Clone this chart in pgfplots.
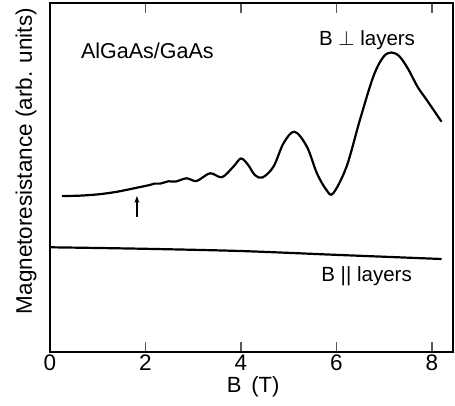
\documentclass[border=0pt]{standalone}
\usepackage{fontspec}
\setmainfont{Liberation Sans}
\usepackage{pgfplots}
\pgfplotsset{compat=1.18}
\usetikzlibrary{arrows.meta}

% Magnetoresistance traces (vertical scale in arbitrary units)
\pgfplotstableread{
x y
0.25 156
0.60 156.3
1.00 157.6
1.40 160.2
1.82 164.3
2.09 167
2.19 168.4
2.31 168.4
2.48 170.7
2.63 170.4
2.86 173.7
3.07 171.0
3.35 178.7
3.60 174.8
3.84 185.3
4.00 193.5
4.15 187
4.29 177
4.45 174.5
4.68 185.3
4.89 208.7
5.12 220.3
5.38 205.3
5.59 178.7
5.79 162
5.93 158.7
6.21 185.3
6.49 232
6.77 275.3
6.98 295
7.15 299.5
7.32 295.5
7.50 283
7.70 265
7.89 252
8.20 230.3
}\perpdata

\pgfplotstableread{
x y
0.02 104.7
1.88 103.3
3.98 101
6.07 97
8.20 93
}\pardata

\begin{document}
\begin{tikzpicture}
\begin{axis}[
  scale only axis,
  width=403pt, height=349pt,
  xmin=0, xmax=8.44, ymin=0, ymax=349,
  axis line style={line width=1.3pt},
  xtick={0,2,4,6,8},
  ytick=\empty,
  tick align=inside,
  xtick pos=both,
  major tick length=10pt,
  every tick/.style={black!65, line width=1.3pt},
  /pgf/number format/assume math mode=true,
  xticklabel style={font=\fontsize{22.5}{22.5}\selectfont, inner sep=0pt, yshift=-3pt},
  xlabel={B\hspace{0.45em}(T)},
  xlabel style={font=\fontsize{22}{22}\selectfont, inner sep=0pt, at={(axis description cs:0.504,0)}, anchor=base, yshift=-41pt},
  ylabel={Magnetoresistance (arb. units)},
  ylabel style={font=\fontsize{22.5}{22.5}\selectfont, at={(axis description cs:-0.0447,0.547)}, anchor=base, rotate=0},
  clip=false,
]
\addplot[black, line width=2.2pt, smooth, tension=0.55] table[x=x, y=y] {\perpdata};
\addplot[black, line width=2.2pt, smooth] table[x=x, y=y] {\pardata};
\addplot[black, line width=1.2pt, -{Stealth[length=7pt, width=5pt]}] coordinates {(1.82,135) (1.82,156)};

\node[font=\fontsize{21.5}{21.5}\selectfont, anchor=base] at (axis cs:2.04,293.7) {AlGaAs/GaAs};
\node[font=\fontsize{20.5}{20.5}\selectfont, anchor=base] at (axis cs:6.64,306) {B $\perp$ layers};
\node[font=\fontsize{20.5}{20.5}\selectfont, anchor=base] at (axis cs:6.63,70.3) {B || layers};
\end{axis}
\pgfresetboundingbox
\useasboundingbox (-50pt,-54pt) rectangle (405pt,352pt);
\end{tikzpicture}
\end{document}
